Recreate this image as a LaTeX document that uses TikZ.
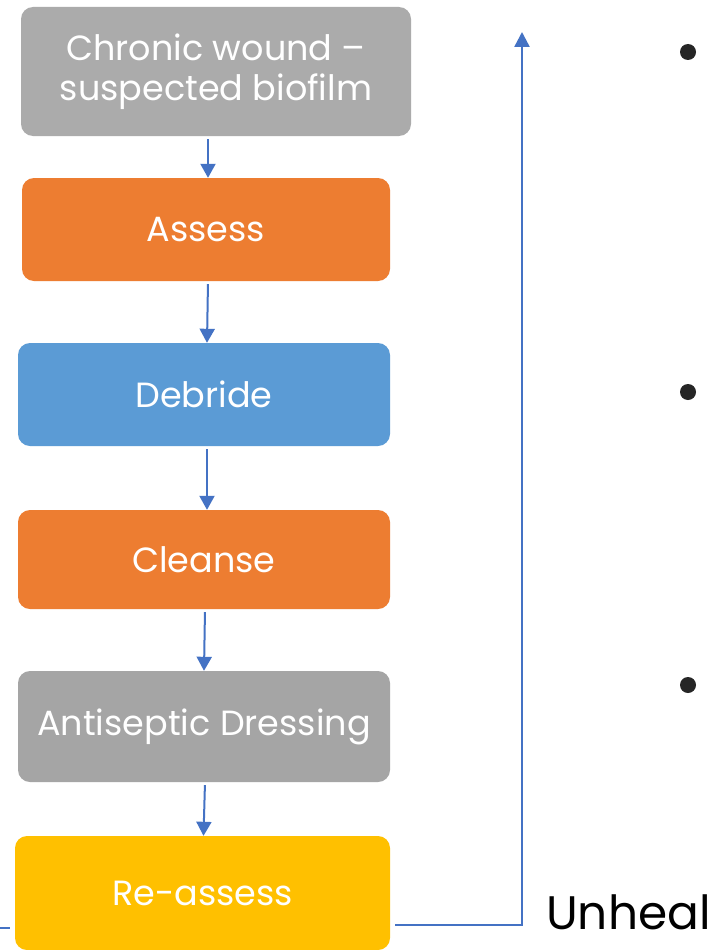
\documentclass[tikz,border=0pt]{standalone}
\usepackage{fontspec}
\setmainfont{Poppins}
\usetikzlibrary{arrows.meta}
\definecolor{cgray}{HTML}{ABABAB}
\definecolor{cgray2}{HTML}{A5A5A5}
\definecolor{corange}{HTML}{ED7D31}
\definecolor{cblue}{HTML}{5B9BD5}
\definecolor{cyellow}{HTML}{FFC000}
\definecolor{cline}{HTML}{4472C4}
\tikzset{
  x=1pt, y=-1pt,
  box/.style={rounded corners=12pt, text=white, align=center, inner sep=0pt,
    font=\fontsize{35}{40}\selectfont},
  arr/.style={draw=cline, line width=2pt, -{Triangle[width=15pt,length=14pt]}, shorten <=3pt},
  fb/.style={draw=cline, line width=2.5pt},
  dot/.style={circle, fill=black!85, inner sep=0pt, minimum size=16pt}
}
\begin{document}
\begin{tikzpicture}
\useasboundingbox (0,0) rectangle (718,950);
\fill[white] (0,0) rectangle (718,950);
\node[box, fill=cgray, minimum width=390pt, minimum height=129pt] (c1) at (216,71.5) {Chronic wound –\\suspected biofilm};
\node[box, fill=corange, minimum width=368pt, minimum height=103pt] (c2) at (206,229.5) {Assess};
\node[box, fill=cblue, minimum width=372pt, minimum height=103pt] (c3) at (204,394.5) {Debride};
\node[box, fill=corange, minimum width=372pt, minimum height=99pt] (c4) at (204,559.5) {Cleanse};
\node[box, fill=cgray2, minimum width=372pt, minimum height=111pt] (c5) at (204,726.5) {Antiseptic Dressing};
\node[box, fill=cyellow, minimum width=375pt, minimum height=114pt] (c6) at (202.5,893) {Re-assess};
\draw[arr] ([xshift=-8pt]c1.south) -- ([xshift=2pt]c2.north);
\draw[arr] ([xshift=2pt]c2.south) -- ([xshift=3pt]c3.north);
\draw[arr] ([xshift=3pt]c3.south) -- ([xshift=3pt]c4.north);
\draw[arr] ([xshift=1pt]c4.south) -- ([xshift=0pt]c5.north);
\draw[arr] ([xshift=1pt]c5.south) -- ([xshift=1pt]c6.north);
\coordinate (top) at (522,32);
\draw[fb, -{Triangle[width=15pt,length=15pt]}] ([xshift=5pt,yshift=-32pt]c6.east) -| (top);
\coordinate (stub) at (0,928);
\draw[fb] (stub) -- ([xshift=-5pt,yshift=-35pt]c6.west);
\node[dot] (b1) at (688,52) {};
\node[dot] (b2) at (688,392) {};
\node[dot] (b3) at (688,685) {};
\node[anchor=west, inner sep=0pt, font=\fontsize{47}{52}\selectfont] (unh) at (546,912) {Unheal};
\end{tikzpicture}
\end{document}
